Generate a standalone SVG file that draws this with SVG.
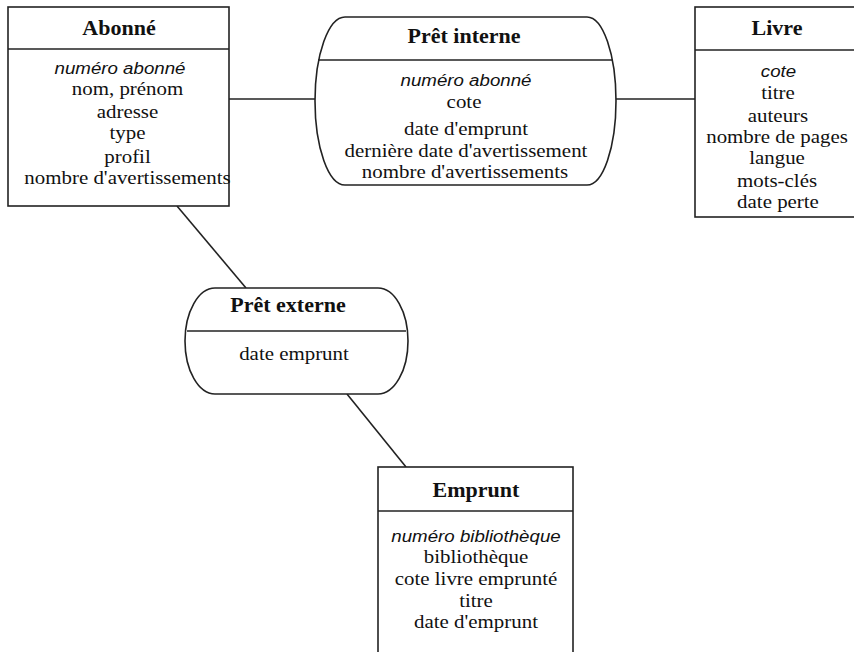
<svg xmlns="http://www.w3.org/2000/svg" width="854" height="652" viewBox="0 0 854 652">
<style>
.shape{fill:#fff;stroke:#222;stroke-width:1.6}
.line{stroke:#222;stroke-width:1.6;fill:none}
.t{font-family:"Liberation Serif","Times New Roman",serif;font-size:20px;font-weight:bold;fill:#111;text-anchor:middle}
.b{font-family:"Liberation Serif","Times New Roman",serif;font-size:19px;fill:#111;text-anchor:middle}
.k{font-family:"Liberation Sans",Arial,sans-serif;font-size:17px;font-style:italic;fill:#111;text-anchor:middle}
</style>
<rect width="854" height="652" fill="#fff"/>
<g id="connectors">
<line class="line" x1="229" y1="99" x2="315" y2="99"/>
<line class="line" x1="616" y1="99" x2="695" y2="99"/>
<line class="line" x1="177" y1="206" x2="246" y2="288"/>
<line class="line" x1="347" y1="394" x2="406" y2="467"/>
</g>
<g id="abonne">
<rect class="shape" x="8" y="7" width="221" height="199"/>
<line class="line" x1="8" y1="49" x2="229" y2="49"/>
<text class="t" transform="matrix(1.1 0 0 1 119 35)">Abonné</text>
<text class="k" transform="matrix(1.1 0 0 1 120 74)">numéro abonné</text>
<text class="b" transform="matrix(1.1 0 0 1 127.5 95)">nom, prénom</text>
<text class="b" transform="matrix(1.1 0 0 1 127.5 118)">adresse</text>
<text class="b" transform="matrix(1.1 0 0 1 127.5 139)">type</text>
<text class="b" transform="matrix(1.1 0 0 1 127.5 163)">profil</text>
<text class="b" transform="matrix(1.1 0 0 1 127.5 184)">nombre d'avertissements</text>
</g>
<g id="pret-interne">
<path class="shape" d="M345,17 H587 A29,84 0 0 1 587,185 H345 A30,84 0 0 1 345,17 Z"/>
<line class="line" x1="318" y1="60" x2="613" y2="60"/>
<text class="t" transform="matrix(1.1 0 0 1 464 43)">Prêt interne</text>
<text class="k" transform="matrix(1.1 0 0 1 466 86)">numéro abonné</text>
<text class="b" transform="matrix(1.1 0 0 1 464 108)">cote</text>
<text class="b" transform="matrix(1.1 0 0 1 466 135)">date d'emprunt</text>
<text class="b" transform="matrix(1.1 0 0 1 466 157)">dernière date d'avertissement</text>
<text class="b" transform="matrix(1.1 0 0 1 465 178)">nombre d'avertissements</text>
</g>
<g id="livre">
<rect class="shape" x="695" y="7" width="170" height="210"/>
<line class="line" x1="695" y1="50" x2="865" y2="50"/>
<text class="t" transform="matrix(1.1 0 0 1 777 35)">Livre</text>
<text class="k" transform="matrix(1.1 0 0 1 778.5 77)">cote</text>
<text class="b" transform="matrix(1.1 0 0 1 778 99)">titre</text>
<text class="b" transform="matrix(1.1 0 0 1 778 122)">auteurs</text>
<text class="b" transform="matrix(1.1 0 0 1 777 143)">nombre de pages</text>
<text class="b" transform="matrix(1.1 0 0 1 777 164)">langue</text>
<text class="b" transform="matrix(1.1 0 0 1 777 187)">mots-clés</text>
<text class="b" transform="matrix(1.1 0 0 1 778 208)">date perte</text>
</g>
<g id="pret-externe">
<path class="shape" d="M215,288 H378 A30,53 0 0 1 378,394 H215 A30,53 0 0 1 215,288 Z"/>
<line class="line" x1="187" y1="331" x2="406" y2="331"/>
<text class="t" transform="matrix(1.1 0 0 1 288 312)">Prêt externe</text>
<text class="b" transform="matrix(1.1 0 0 1 294 360)">date emprunt</text>
</g>
<g id="emprunt">
<rect class="shape" x="378" y="467" width="195" height="200"/>
<line class="line" x1="378" y1="511" x2="573" y2="511"/>
<text class="t" transform="matrix(1.1 0 0 1 476 497)">Emprunt</text>
<text class="k" transform="matrix(1.1 0 0 1 476 542)">numéro bibliothèque</text>
<text class="b" transform="matrix(1.1 0 0 1 476 563)">bibliothèque</text>
<text class="b" transform="matrix(1.1 0 0 1 476 585)">cote livre emprunté</text>
<text class="b" transform="matrix(1.1 0 0 1 476 607)">titre</text>
<text class="b" transform="matrix(1.1 0 0 1 476 628)">date d'emprunt</text>
</g>
</svg>
